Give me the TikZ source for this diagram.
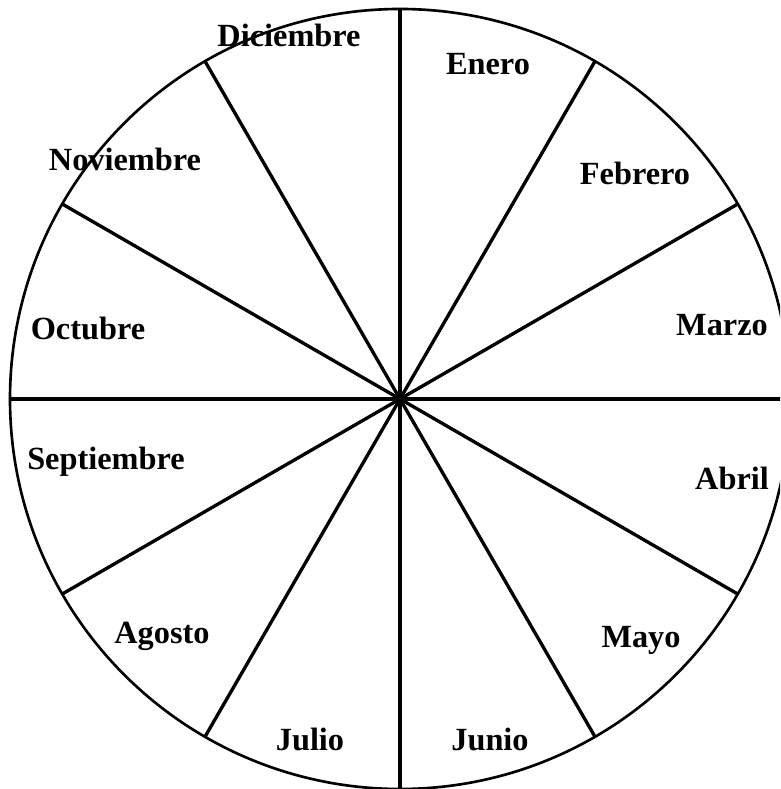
\documentclass[tikz,border=0pt]{standalone}
\usepackage{fontspec}
\setmainfont{Liberation Serif}
\usepackage{tikz}
\tikzset{
    month/.style={anchor=base, inner sep=0pt, font=\fontsize{9.2}{10}\selectfont\bfseries},
    rim/.style={draw, line width=0.75pt},
    spoke/.style={draw, line width=0.95pt},
}

\begin{document}
\begin{tikzpicture}

    % Frame (the wheel is cut at the right and bottom edges)
    \clip (-4.00, 3.99) rectangle (3.80, -3.90);
    \fill[white] (-4.00, 3.99) rectangle (3.80, -3.90);

    % Wheel
    \coordinate (hub) at (0, 0);
    \draw[rim] (hub) circle (3.9);

    % Spokes, every 30 degrees
    \coordinate (s90) at (90:3.9);   \coordinate (s270) at (270:3.9);
    \coordinate (s60) at (60:3.9);   \coordinate (s240) at (240:3.9);
    \coordinate (s30) at (30:3.9);   \coordinate (s210) at (210:3.9);
    \coordinate (s0) at (0:3.9);     \coordinate (s180) at (180:3.9);
    \coordinate (s330) at (330:3.9); \coordinate (s150) at (150:3.9);
    \coordinate (s300) at (300:3.9); \coordinate (s120) at (120:3.9);

    \draw[spoke] (s90) -- (s270);
    \draw[spoke] (s60) -- (s240);
    \draw[spoke] (s30) -- (s210);
    \draw[spoke] (s0) -- (s180);
    \draw[spoke] (s330) -- (s150);
    \draw[spoke] (s300) -- (s120);

    % Months
    \node[month] (enero) at (0.88, 3.24) {Enero};
    \node[month] (febrero) at (2.35, 2.14) {Febrero};
    \node[month] (marzo) at (3.22, 0.63) {Marzo};
    \node[month] (abril) at (3.32, -0.91) {Abril};
    \node[month] (mayo) at (2.41, -2.48) {Mayo};
    \node[month] (junio) at (0.90, -3.51) {Junio};
    \node[month] (julio) at (-0.90, -3.51) {Julio};
    \node[month] (agosto) at (-2.38, -2.44) {Agosto};
    \node[month] (septiembre) at (-2.94, -0.71) {Septiembre};
    \node[month] (octubre) at (-3.12, 0.59) {Octubre};
    \node[month] (noviembre) at (-2.75, 2.28) {Noviembre};
    \node[month] (diciembre) at (-1.11, 3.52) {Diciembre};

\end{tikzpicture}
\end{document}
